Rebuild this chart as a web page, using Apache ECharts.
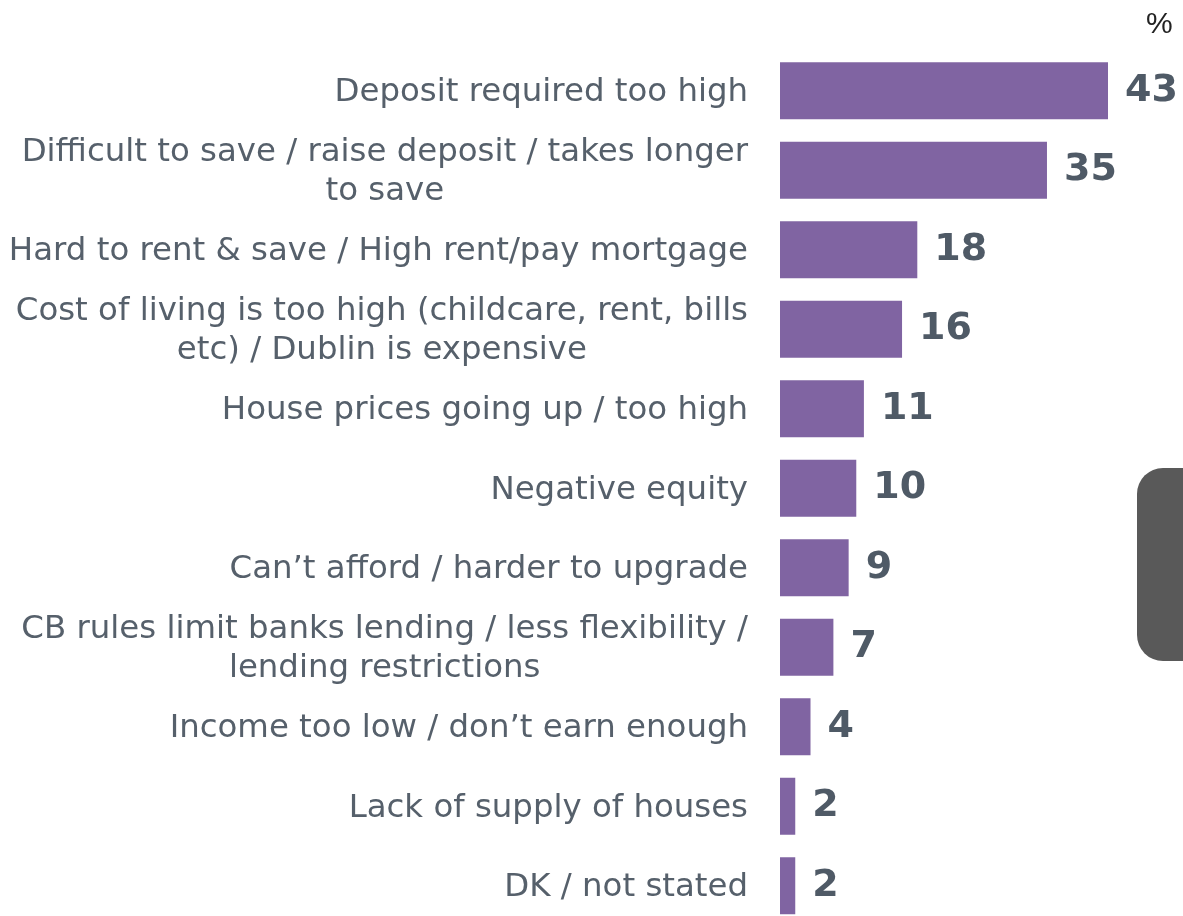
<!DOCTYPE html>
<html>
<head>
<meta charset="utf-8">
<script src="https://cdn.jsdelivr.net/npm/echarts@6/dist/echarts.min.js"></script>
<style>
  html, body { margin: 0; padding: 0; background: #fff; overflow: hidden; }
  /* the last bar runs off the bottom edge in the original, so the canvas is a bit taller than the window */
  #chart { width: 1183px; height: 930px; }
</style>
</head>
<body>
<div id="chart"></div>
<script>
const categories = [
  'Deposit required too high',
  'Difficult to save / raise deposit / takes longer\nto save',
  'Hard to rent & save / High rent/pay mortgage',
  'Cost of living is too high (childcare, rent, bills\netc) / Dublin is expensive',
  'House prices going up / too high',
  'Negative equity',
  'Can\u2019t afford / harder to upgrade',
  'CB rules limit banks lending / less flexibility /\nlending restrictions',
  'Income too low / don\u2019t earn enough',
  'Lack of supply of houses',
  'DK / not stated'
]
const values = [43, 35, 18, 16, 11, 10, 9, 7, 4, 2, 2]

const FONT = '"DejaVu Sans", Verdana, sans-serif'
const LABEL_COLOR = '#56606b'
const VALUE_COLOR = '#4f5a66'
const BAR_COLOR = '#8064a2'

const chart = echarts.init(document.getElementById('chart'), null, { renderer: 'canvas' })

chart.setOption({
  backgroundColor: '#ffffff',
  animation: false,
  grid: { left: 780, top: 51, width: 381.4, height: 874.5 },
  xAxis: {
    type: 'value', min: 0, max: 50,
    show: false
  },
  yAxis: {
    type: 'category', inverse: true,
    data: categories,
    axisLine: { show: false },
    axisTick: { show: false },
    splitLine: { show: false },
    axisLabel: {
      margin: 32,
      align: 'right',
      padding: [4, 0, 0, 0],
      // wrapped labels: block sits right-aligned, lines centred on each other
      formatter: (v) => v.split('\n').map((l) => `{c|${l}}`).join('\n'),
      rich: {
        c: {
          align: 'center',
          fontFamily: FONT, fontSize: 32.4, color: LABEL_COLOR, lineHeight: 39
        }
      }
    }
  },
  series: [{
    type: 'bar',
    data: values,
    barWidth: 57,
    itemStyle: { color: BAR_COLOR },
    label: {
      show: true, position: 'right', distance: 17,
      fontFamily: FONT, fontWeight: 'bold', fontSize: 38, color: VALUE_COLOR
    }
  }],
  graphic: [
    {
      type: 'text', left: 1146, top: 10,
      style: { text: '%', font: '30px "Liberation Sans", Arial, sans-serif', fill: '#222' }
    },
    {
      type: 'rect', left: 1137, top: 468,
      shape: { width: 80, height: 193, r: 26 },
      style: { fill: '#595959' }
    }
  ]
})
</script>
</body>
</html>
